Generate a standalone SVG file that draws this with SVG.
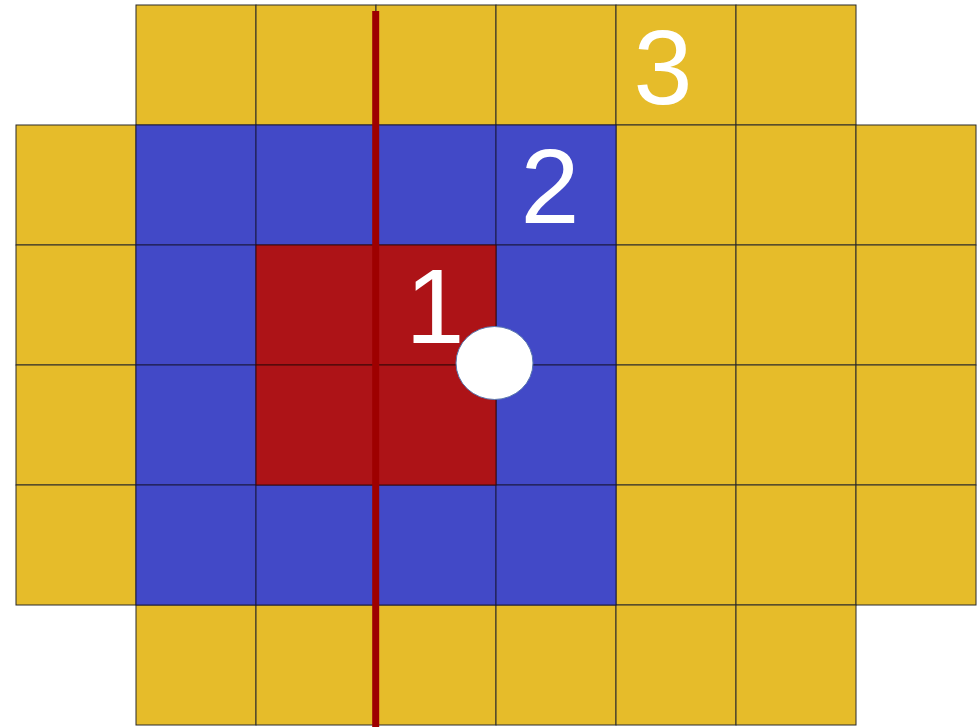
<svg xmlns="http://www.w3.org/2000/svg" width="978" height="727" viewBox="0 0 978 727">
<style>
.y{fill:#e6bc2a;stroke:#2a2a2a;stroke-width:1}
.b{fill:#4249c7;stroke:#1a1a40;stroke-width:1}
.r{fill:#ad1317;stroke:#3a0808;stroke-width:1}
.t{font-family:"Liberation Sans",Arial,sans-serif;font-size:106px;fill:#ffffff;text-anchor:middle}
</style>
<rect width="978" height="727" fill="#ffffff"/>
<g id="zone3">
<rect class="y" x="136" y="5" width="120" height="120"/>
<rect class="y" x="256" y="5" width="120" height="120"/>
<rect class="y" x="376" y="5" width="120" height="120"/>
<rect class="y" x="496" y="5" width="120" height="120"/>
<rect class="y" x="616" y="5" width="120" height="120"/>
<rect class="y" x="736" y="5" width="120" height="120"/>
<rect class="y" x="16" y="125" width="120" height="120"/>
<rect class="y" x="616" y="125" width="120" height="120"/>
<rect class="y" x="736" y="125" width="120" height="120"/>
<rect class="y" x="856" y="125" width="120" height="120"/>
<rect class="y" x="16" y="245" width="120" height="120"/>
<rect class="y" x="616" y="245" width="120" height="120"/>
<rect class="y" x="736" y="245" width="120" height="120"/>
<rect class="y" x="856" y="245" width="120" height="120"/>
<rect class="y" x="16" y="365" width="120" height="120"/>
<rect class="y" x="616" y="365" width="120" height="120"/>
<rect class="y" x="736" y="365" width="120" height="120"/>
<rect class="y" x="856" y="365" width="120" height="120"/>
<rect class="y" x="16" y="485" width="120" height="120"/>
<rect class="y" x="616" y="485" width="120" height="120"/>
<rect class="y" x="736" y="485" width="120" height="120"/>
<rect class="y" x="856" y="485" width="120" height="120"/>
<rect class="y" x="136" y="605" width="120" height="120"/>
<rect class="y" x="256" y="605" width="120" height="120"/>
<rect class="y" x="376" y="605" width="120" height="120"/>
<rect class="y" x="496" y="605" width="120" height="120"/>
<rect class="y" x="616" y="605" width="120" height="120"/>
<rect class="y" x="736" y="605" width="120" height="120"/>
</g>
<g id="zone2">
<rect class="b" x="136" y="125" width="120" height="120"/>
<rect class="b" x="256" y="125" width="120" height="120"/>
<rect class="b" x="376" y="125" width="120" height="120"/>
<rect class="b" x="496" y="125" width="120" height="120"/>
<rect class="b" x="136" y="245" width="120" height="120"/>
<rect class="b" x="496" y="245" width="120" height="120"/>
<rect class="b" x="136" y="365" width="120" height="120"/>
<rect class="b" x="496" y="365" width="120" height="120"/>
<rect class="b" x="136" y="485" width="120" height="120"/>
<rect class="b" x="256" y="485" width="120" height="120"/>
<rect class="b" x="376" y="485" width="120" height="120"/>
<rect class="b" x="496" y="485" width="120" height="120"/>
</g>
<g id="zone1">
<rect class="r" x="256" y="245" width="120" height="120"/>
<rect class="r" x="376" y="245" width="120" height="120"/>
<rect class="r" x="256" y="365" width="120" height="120"/>
<rect class="r" x="376" y="365" width="120" height="120"/>
</g>
<g id="connectors">
<line x1="375.7" y1="11" x2="375.7" y2="727" stroke="#9e0000" stroke-width="7"/>
</g>
<g id="point">
<ellipse cx="494.5" cy="363" rx="38.5" ry="36.5" fill="#ffffff" stroke="#5a78b0" stroke-width="1"/>
</g>
<g id="labels">
<text class="t" x="435" y="343">1</text>
<text class="t" x="550" y="223">2</text>
<text class="t" x="663" y="104">3</text>
</g>
</svg>
